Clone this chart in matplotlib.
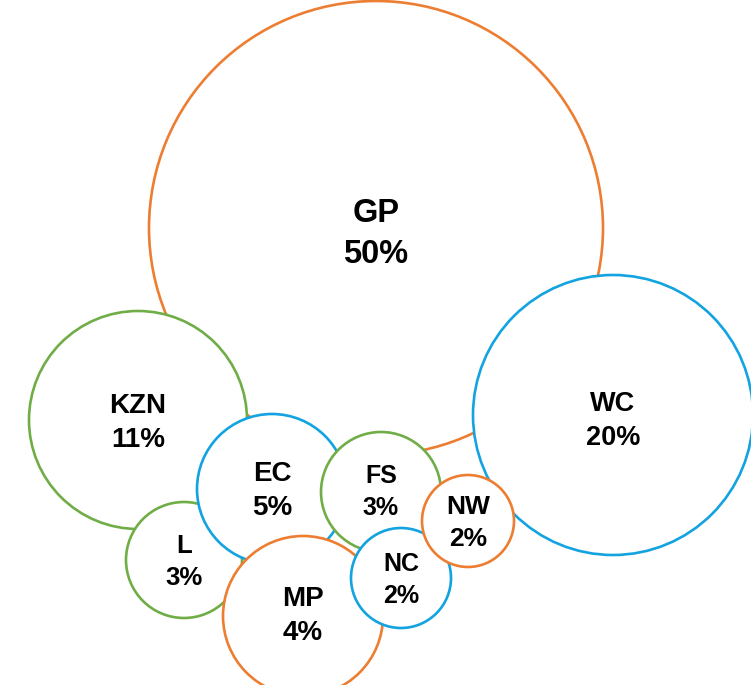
import matplotlib
matplotlib.use("Agg")
import matplotlib.pyplot as plt
from matplotlib.patches import Circle

# Bubble data (drawing order matters: later bubbles cover earlier ones)
regions = ["GP", "WC", "KZN", "L", "EC", "FS", "MP", "NC", "NW"]
shares = [50, 20, 11, 3, 5, 3, 4, 2, 2]          # percent labels
bubble_x = [376, 613, 138, 184, 272, 381, 303, 401, 468]
bubble_y = [228, 415, 420, 560, 489, 492, 616, 578, 521]
bubble_r = [227, 140, 109, 58, 75, 60, 80, 50, 46]

ORANGE = "#ED7D31"
GREEN = "#70AD47"
BLUE = "#12A3E0"
edge_colors = [ORANGE, BLUE, GREEN, GREEN, BLUE, GREEN, ORANGE, BLUE, ORANGE]
font_sizes = [23.5, 19.5, 20, 18.5, 20, 18, 20, 18, 19]
label_dy = [6, 6, 3, 2, 2, 0, 0, 2, 2]   # small vertical nudges for labels (px)

plt.rcParams["font.family"] = ["Liberation Sans", "DejaVu Sans"]

fig = plt.figure(figsize=(7.51, 6.85), dpi=100)
ax = fig.add_axes([0, 0, 1, 1])
ax.set_xlim(0, 751)
ax.set_ylim(685, 0)
ax.set_aspect("equal")
ax.axis("off")

for i, (name, s, x, y, r, c, fs, dy) in enumerate(
        zip(regions, shares, bubble_x, bubble_y, bubble_r, edge_colors,
            font_sizes, label_dy)):
    circ = Circle((x, y), r, facecolor="white", edgecolor=c, linewidth=1.9,
                  zorder=2 * i + 1)
    ax.add_patch(circ)
    ax.text(x, y + dy, f"{name}\n{s}%", ha="center", va="center",
            fontsize=fs, fontweight="bold", color="black",
            linespacing=1.4, zorder=2 * i + 2)

fig.savefig("out.png", dpi=100, facecolor="white")
